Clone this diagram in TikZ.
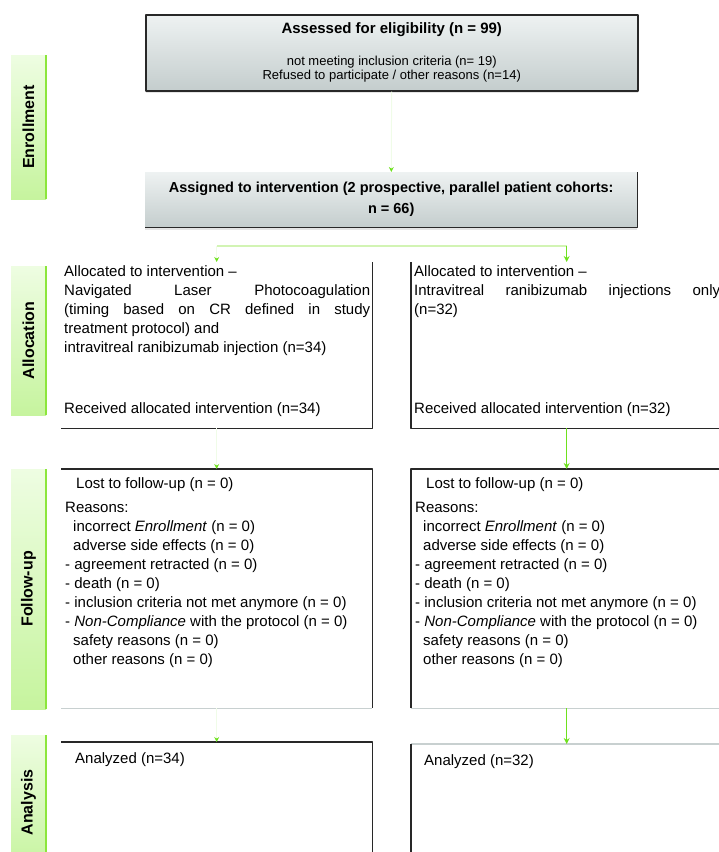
\documentclass[tikz,border=0pt]{standalone}
\usepackage{fontspec}
\setmainfont{Liberation Sans}
\usetikzlibrary{arrows.meta,positioning,shadows}

\definecolor{stagelight}{RGB}{238,253,226}
\definecolor{stagegreen}{RGB}{198,244,158}
\definecolor{stageedge}{RGB}{140,230,60}
\definecolor{linkgreen}{RGB}{110,225,30}
\definecolor{paleline}{RGB}{210,244,180}
\definecolor{boxtop}{RGB}{238,242,242}
\definecolor{boxbottom}{RGB}{196,205,205}
\definecolor{boxedge}{RGB}{40,40,40}
\definecolor{softedge}{RGB}{200,208,208}

\tikzset{
  stagebox/.style={rotate=90, inner sep=0pt, minimum height=35pt, top color=stagelight, bottom color=stagegreen, font=\fontsize{16}{18}\selectfont\bfseries},
  stageline/.style={draw=stageedge, line width=1.5pt},
  greybox/.style={rectangle, inner sep=0pt, top color=boxtop, bottom color=boxbottom, align=center, drop shadow={shadow xshift=0pt, shadow yshift=-2.5pt, fill=black!20}},
  panel/.style={rectangle, inner sep=0pt, anchor=north west, minimum width=311pt},
  bodytext/.style={inner sep=0pt, align=left, font=\fontsize{15}{19}\selectfont},
  boxline/.style={draw=boxedge, line width=1.5pt},
  softline/.style={draw=softedge, line width=1.5pt},
  link/.style={draw=linkgreen, line width=1.2pt, -{Stealth[length=6pt,width=6pt]}},
  ghost/.style={draw=linkgreen!10, line width=1pt, -{Stealth[length=5pt,width=5pt,color=linkgreen]}},
}

\begin{document}
\begin{tikzpicture}[x=1pt, y=-1pt, line join=round]
  \useasboundingbox (0,0) rectangle (719,852);

  % Stage labels on the left
  \foreach \name/\txt/\ytop/\ybot in {enrol/Enrollment/55/199, alloc/Allocation/266/415, follow/Follow-up/469/709, analys/Analysis/735/870}{
    \node (\name) [stagebox, minimum width={\ybot-\ytop}] at (28.5,{(\ytop+\ybot)/2}) {\txt};
    \draw[stageline] (\name.south west) -- (\name.south east);
  }

  % Enrollment
  \node (assess) [greybox, boxline, minimum width=492pt, minimum height=76pt, anchor=north west, font=\fontsize{13}{14}\selectfont] at (145,14)
    {{\fontsize{15}{18}\selectfont\bfseries Assessed for eligibility (n = 99)}\\[18pt]
     not meeting inclusion criteria (n= 19)\\
     Refused to participate / other reasons (n=14)};
  \node (assign) [greybox, minimum width=492pt, minimum height=55pt, anchor=north west, font=\fontsize{14.5}{21}\selectfont\bfseries] at (145,172)
    {Assigned to intervention (2 prospective, parallel patient cohorts:\\ n = 66)};
  \draw[boxline] (assign.north east) -- (assign.south east) -- (assign.south west);

  % Allocation
  \node (alocL) [panel, minimum height=166pt] at (61,262) {};
  \node (alocR) [panel, minimum height=166pt] at (411,262) {};
  \draw[boxline] (alocL.north east) -- (alocL.south east) -- (alocL.south west);
  \draw[boxline] (alocR.north west) -- (alocR.south west) -- (alocR.south east);
  \node (alocLtxt) [bodytext, anchor=north west] at ([shift={(3,3)}]alocL.north west)
    {Allocated to intervention --\\
     \makebox[306pt][s]{Navigated Laser Photocoagulation}\\
     \makebox[306pt][s]{(timing based on CR defined in study}\\
     treatment protocol) and\\
     intravitreal ranibizumab injection (n=34)};
  \node (alocRtxt) [bodytext, anchor=north west] at ([shift={(3,3)}]alocR.north west)
    {Allocated to intervention --\\
     \makebox[306pt][s]{Intravitreal ranibizumab injections only}\\
     (n=32)};
  \node (recvL) [bodytext, anchor=base west] at ([shift={(3,-15)}]alocL.south west) {Received allocated intervention (n=34)};
  \node (recvR) [bodytext, anchor=base west] at ([shift={(3,-15)}]alocR.south west) {Received allocated intervention (n=32)};

  % Follow-up
  \node (fuL) [panel, minimum height=239pt] at (61,469) {};
  \node (fuR) [panel, minimum height=239pt] at (411,469) {};
  \draw[boxline] (fuL.north west) -- (fuL.north east) -- (fuL.south east);
  \draw[boxline] (fuR.north east) -- (fuR.north west) -- (fuR.south west);
  \draw[softline] (fuL.south west) -- (fuL.south east);
  \draw[softline] (fuR.south west) -- (fuR.south east);
  \foreach \side in {fuL,fuR}{
    \node (\side txt) [bodytext, anchor=north west] at ([shift={(4,8)}]\side.north west)
      {\hspace*{11pt}Lost to follow-up (n = 0)\\[5pt]
       Reasons:\\
       \hspace*{8pt}incorrect \textit{Enrollment} (n = 0)\\
       \hspace*{8pt}adverse side effects (n = 0)\\
       - agreement retracted (n = 0)\\
       - death (n = 0)\\
       - inclusion criteria not met anymore (n = 0)\\
       - \textit{Non-Compliance} with the protocol (n = 0)\\
       \hspace*{8pt}safety reasons (n = 0)\\
       \hspace*{8pt}other reasons (n = 0)};
  }

  % Analysis
  \node (anL) [panel, minimum height=130pt] at (61,742) {};
  \node (anR) [panel, minimum height=130pt] at (411,744) {};
  \draw[boxline] (anL.north west) -- (anL.north east) -- (anL.south east);
  \draw[softline] (anR.north west) -- (anR.north east);
  \draw[boxline] (anR.north west) -- (anR.south west);
  \node (anLtxt) [bodytext, anchor=north west] at ([shift={(14,10)}]anL.north west) {Analyzed (n=34)};
  \node (anRtxt) [bodytext, anchor=north west] at ([shift={(13,10)}]anR.north west) {Analyzed (n=32)};

  % Connectors
  \coordinate (split) at (391,246);
  \draw[ghost] (assess) -- (assign);
  \draw[draw=paleline, line width=1.5pt] (alocL.north |- split) -- (alocR.north |- split);
  \draw[ghost] (alocL.north |- split) -- (alocL.north);
  \draw[link] (alocR.north |- split) -- (alocR.north);
  \draw[ghost] (alocL) -- (fuL);
  \draw[link] (alocR) -- (fuR);
  \draw[ghost] (fuL) -- (anL);
  \draw[link] (fuR.south) -- (anR.north);
\end{tikzpicture}
\end{document}
